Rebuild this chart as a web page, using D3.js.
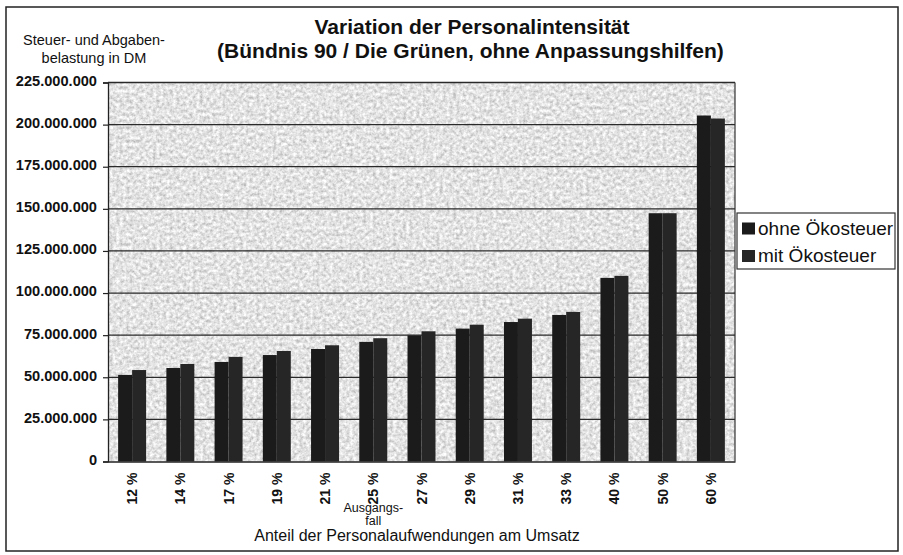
<!DOCTYPE html>
<html lang="de">
<head>
<meta charset="utf-8">
<title>Variation der Personalintensität</title>
<script src="https://d3js.org/d3.v7.min.js"></script>
<style>
  body { margin: 0; background: #fff; font-family: Arial, "Liberation Sans", sans-serif; }
  svg text { font-family: Arial, "Liberation Sans", sans-serif; fill: #111; }
</style>
</head>
<body>
<script>
// data (DM)
var categories = ["12 %", "14 %", "17 %", "19 %", "21 %", "25 %", "27 %", "29 %", "31 %", "33 %", "40 %", "50 %", "60 %"];
var ohneOeko = [51.4e6, 55.5e6, 59.1e6, 63.2e6, 66.8e6, 71.0e6, 74.9e6, 78.9e6, 82.8e6, 87.0e6, 109.0e6, 147.4e6, 205.4e6];
var mitOeko  = [54.3e6, 57.9e6, 62.1e6, 65.6e6, 69.0e6, 73.2e6, 77.3e6, 81.2e6, 84.8e6, 88.8e6, 110.2e6, 147.4e6, 203.6e6];
var seriesNames = ["ohne Ökosteuer", "mit Ökosteuer"];
var yTicks = [0, 25e6, 50e6, 75e6, 100e6, 125e6, 150e6, 175e6, 200e6, 225e6];

var W = 903, H = 555;
var plotL = 108, plotR = 735, plotT = 82.5, plotB = 461.5;

var svg = d3.select("body").append("svg")
    .attr("width", W)
    .attr("height", H);

// speckled grey paper texture for the plot area
var defs = svg.append("defs");
var flt = defs.append("filter").attr("id", "speckle")
    .attr("x", 0).attr("y", 0).attr("width", 1).attr("height", 1);
flt.append("feTurbulence")
    .attr("type", "fractalNoise")
    .attr("baseFrequency", 0.3)
    .attr("numOctaves", 3)
    .attr("seed", 11)
    .attr("result", "noise");
flt.append("feColorMatrix")
    .attr("in", "noise")
    .attr("type", "matrix")
    .attr("values", "0.8 0 0 0 0.37  0.8 0 0 0 0.37  0.8 0 0 0 0.37  0 0 0 0 1")
    .attr("result", "grey");
flt.append("feComposite")
    .attr("in", "grey").attr("in2", "SourceGraphic").attr("operator", "in");

// outer frame
svg.append("rect")
    .attr("x", 6).attr("y", 7)
    .attr("width", 892).attr("height", 544)
    .attr("fill", "#fff")
    .attr("stroke", "#222")
    .attr("stroke-width", 1.5);

var x0 = d3.scaleBand()
    .domain(categories)
    .range([plotL, plotR])
    .paddingInner(0.42)
    .paddingOuter(0.21);

var x1 = d3.scaleBand()
    .domain(seriesNames)
    .range([0, x0.bandwidth()]);

var y = d3.scaleLinear()
    .domain([0, 225e6])
    .range([plotB, plotT]);

var de = d3.formatLocale({ decimal: ",", thousands: ".", grouping: [3], currency: ["", " DM"] });
var fmt = de.format(",");

// plot background
svg.append("rect")
    .attr("x", plotL).attr("y", plotT)
    .attr("width", plotR - plotL).attr("height", plotB - plotT)
    .attr("fill", "#c4c4c4")
    .attr("filter", "url(#speckle)");

// grid lines
svg.append("g")
    .selectAll("line")
    .data(yTicks.slice(1))
    .enter().append("line")
    .attr("x1", plotL).attr("x2", plotR)
    .attr("y1", function(d) { return y(d); })
    .attr("y2", function(d) { return y(d); })
    .attr("stroke", "#2a2a2a")
    .attr("stroke-width", 1.3);

svg.append("line")
    .attr("x1", plotR).attr("x2", plotR)
    .attr("y1", plotT).attr("y2", plotB)
    .attr("stroke", "#333").attr("stroke-width", 1.2);

// bars
var rows = categories.map(function(c, i) {
  return { cat: c, vals: [ohneOeko[i], mitOeko[i]] };
});
var barColor = ["#1b1b1b", "#262626"];

svg.append("g")
  .selectAll("g")
  .data(rows)
  .enter().append("g")
    .attr("transform", function(d) { return "translate(" + x0(d.cat) + ",0)"; })
  .selectAll("rect")
  .data(function(d) { return d.vals.map(function(v, k) { return { key: seriesNames[k], k: k, value: v }; }); })
  .enter().append("rect")
    .attr("x", function(d) { return x1(d.key); })
    .attr("y", function(d) { return y(d.value); })
    .attr("width", x1.bandwidth())
    .attr("height", function(d) { return plotB - y(d.value); })
    .attr("fill", function(d) { return barColor[d.k]; });

// y axis
var yAxis = svg.append("g")
    .attr("transform", "translate(" + plotL + ",0)")
    .call(d3.axisLeft(y).tickValues(yTicks).tickFormat(fmt).tickSize(5).tickPadding(6));
yAxis.select(".domain").attr("stroke", "#222").attr("stroke-width", 1.3);
yAxis.selectAll(".tick line").attr("stroke", "#222").attr("stroke-width", 1.2);
yAxis.selectAll("text")
    .attr("dy", "0.2em")
    .style("font-size", "14.6px")
    .style("font-weight", "bold")
    .attr("fill", "#111");

// x axis
var xAxis = svg.append("g")
    .attr("transform", "translate(0," + plotB + ")")
    .call(d3.axisBottom(x0).tickSize(0));
xAxis.select(".domain").attr("stroke", "#222").attr("stroke-width", 1.3);
xAxis.selectAll("text")
    .attr("transform", "rotate(-90)")
    .attr("text-anchor", "end")
    .attr("x", -11)
    .attr("y", 0)
    .attr("dy", "0.36em")
    .style("font-size", "14px")
    .style("font-weight", "bold")
    .attr("fill", "#111");

// note below the base case
var baseX = x0("25 %") + x0.bandwidth() / 2;
svg.append("text")
    .attr("x", baseX).attr("y", 511.5)
    .attr("text-anchor", "middle")
    .style("font-size", "12.5px")
    .text("Ausgangs-");
svg.append("text")
    .attr("x", baseX).attr("y", 525)
    .attr("text-anchor", "middle")
    .style("font-size", "12.5px")
    .text("fall");

// axis titles
svg.append("text")
    .attr("x", 417).attr("y", 541)
    .attr("text-anchor", "middle")
    .style("font-size", "16px")
    .text("Anteil der Personalaufwendungen am Umsatz");

svg.append("text")
    .attr("x", 94).attr("y", 45)
    .attr("text-anchor", "middle")
    .style("font-size", "14.5px")
    .text("Steuer- und Abgaben-");
svg.append("text")
    .attr("x", 94).attr("y", 63)
    .attr("text-anchor", "middle")
    .style("font-size", "14.5px")
    .text("belastung in DM");

// title
svg.append("text")
    .attr("x", 472).attr("y", 34)
    .attr("text-anchor", "middle")
    .style("font-size", "21px")
    .style("font-weight", "bold")
    .text("Variation der Personalintensität");
svg.append("text")
    .attr("x", 470.5).attr("y", 58)
    .attr("text-anchor", "middle")
    .style("font-size", "21px")
    .style("font-weight", "bold")
    .text("(Bündnis 90 / Die Grünen, ohne Anpassungshilfen)");

// legend
var lg = svg.append("g").attr("transform", "translate(737,213)");
lg.append("rect")
    .attr("width", 158).attr("height", 56)
    .attr("fill", "#fff")
    .attr("stroke", "#333").attr("stroke-width", 1.2);
var item = lg.selectAll("g.item")
    .data(seriesNames)
    .enter().append("g")
    .attr("class", "item")
    .attr("transform", function(d, i) { return "translate(0," + (i * 27.5) + ")"; });
item.append("rect")
    .attr("x", 5).attr("y", 9.5)
    .attr("width", 13).attr("height", 12)
    .attr("fill", function(d, i) { return barColor[i]; });
item.append("text")
    .attr("x", 21).attr("y", 21.5)
    .style("font-size", "19px")
    .text(function(d) { return d; });
</script>
</body>
</html>
